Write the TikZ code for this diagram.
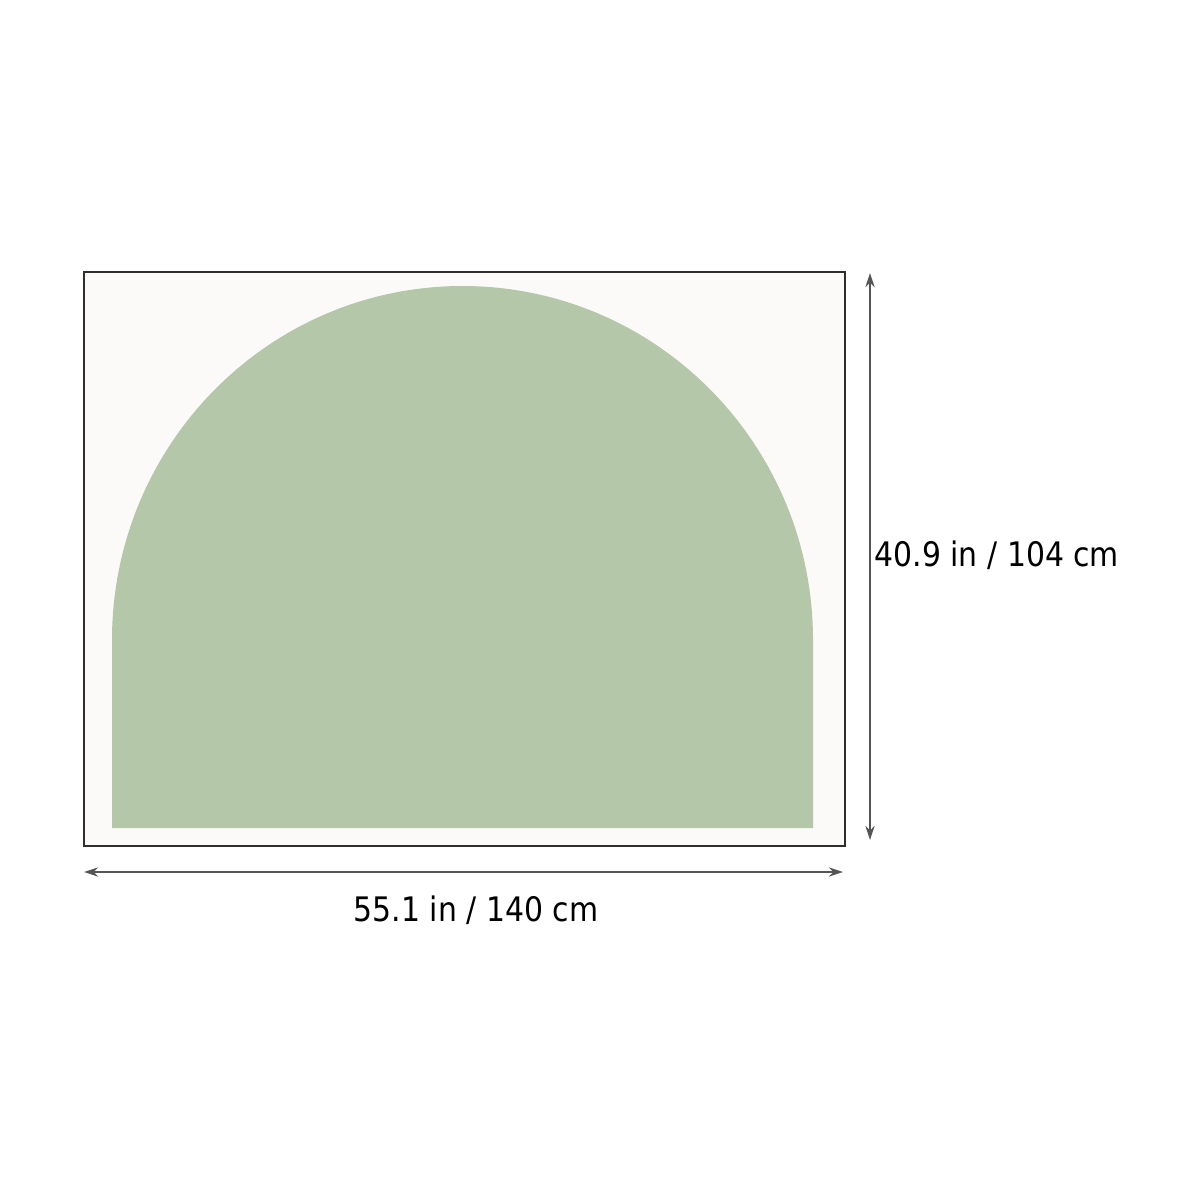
\documentclass[tikz,border=0pt]{standalone}
\usepackage{fontspec}
\setmainfont{DejaVu Sans}[FakeStretch=0.885]
\usetikzlibrary{arrows.meta}
\definecolor{sage}{HTML}{B5C7A9}
\definecolor{paper}{HTML}{FBFAF8}
\definecolor{frame}{HTML}{2E2E2E}
\definecolor{dimline}{HTML}{555555}
\tikzset{
    dimarrow/.style={draw=dimline, line width=0.45pt, {Stealth[length=4pt,width=2.6pt]}-{Stealth[length=4pt,width=2.6pt]}},
    dimlabel/.style={font=\fontsize{9.6}{11}\selectfont, text=black, inner sep=0pt}
}

\begin{document}
\begin{tikzpicture}[x=0.01cm,y=-0.01cm]
    % Cadre de la page
    \useasboundingbox[fill=white] (0,0) rectangle (1200,1200);

    % Tapis (fond et bord)
    \fill[paper] (84,272) rectangle (845,846);
    \draw[frame, line width=0.4pt] (84,272) rectangle (845,846);

    % Forme en arche
    \fill[sage] (112,828) -- (112,640) arc[start angle=180, end angle=0, x radius=350.5, y radius=-354] -- (813,828) -- cycle;

    % Cotes
    \coordinate (wl) at (84,872);
    \coordinate (wr) at (843,872);
    \coordinate (ht) at (870,273);
    \coordinate (hb) at (870,840);
    \draw[dimarrow] (wl) -- (wr);
    \draw[dimarrow] (ht) -- (hb);

    % Étiquettes des cotes
    \node[dimlabel] (width) at (476,910) {55.1 in / 140 cm};
    \node[dimlabel, anchor=west] (height) at (874,555) {40.9 in / 104 cm};
\end{tikzpicture}
\end{document}
